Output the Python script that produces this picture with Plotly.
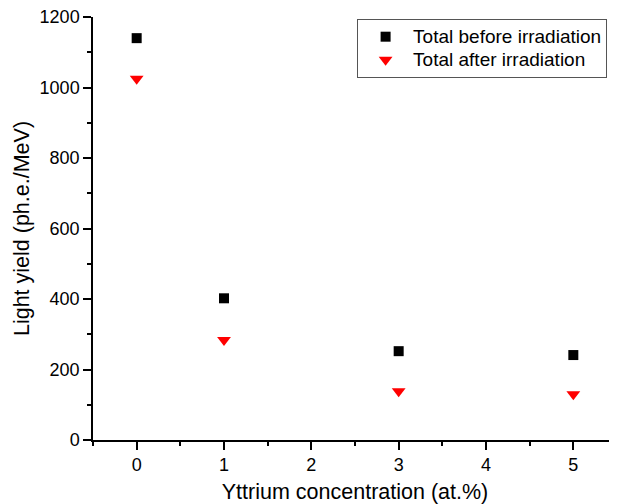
import plotly.graph_objects as go

x_conc = [0, 1, 3, 5]
before = [1140, 402, 252, 241]
after = [1025, 284, 138, 130]
series_names = ["Total before irradiation", "Total after irradiation"]

FONT = "Liberation Sans, Arial, sans-serif"

def leg(name):
    return '<span style="font-size:19px">' + name + '</span>'

fig = go.Figure()
fig.add_trace(go.Scatter(x=x_conc, y=before, mode="markers", name=leg(series_names[0]),
                         marker=dict(symbol="square", size=10, color="black")))
fig.add_trace(go.Scatter(x=x_conc, y=after, mode="markers", name=leg(series_names[1]),
                         marker=dict(symbol="triangle-down", size=12, color="red")))

tick_font = dict(family=FONT, size=18, color="black")
# page body has an 8px default margin, so the figure is sized to fit the window
fig.update_layout(
    width=609, height=496,
    margin=dict(l=85, r=0, t=9, b=64),
    plot_bgcolor="white", paper_bgcolor="white",
    font=dict(family=FONT, color="black"),
    showlegend=True,
    legend=dict(x=0.504, y=0.995, xanchor="left", yanchor="top",
                bordercolor="#555", borderwidth=1, bgcolor="white",
                font=dict(family=FONT, size=15.5, color="black"),
                tracegroupgap=0, itemwidth=45),
)
fig.update_xaxes(range=[-0.5, 5.5], dtick=1, tick0=0, showgrid=False, zeroline=False,
                 showline=True, linecolor="black", linewidth=1.5, automargin=False,
                 ticks="outside", ticklen=8, tickwidth=1.5, tickcolor="black",
                 ticklabeloverflow="allow",
                 minor=dict(dtick=0.5, tick0=0, ticks="outside", ticklen=4, tickwidth=1.5, tickcolor="black"),
                 title=dict(text="Yttrium concentration (at.%)", font=dict(family=FONT, size=21.5), standoff=15),
                 tickfont=tick_font)
fig.update_yaxes(range=[0, 1200], dtick=200, showgrid=False, zeroline=False,
                 showline=True, linecolor="black", linewidth=1.5, automargin=False,
                 ticks="outside", ticklen=8, tickwidth=1.5, tickcolor="black",
                 ticklabeloverflow="allow",
                 minor=dict(dtick=100, ticks="outside", ticklen=4, tickwidth=1.5, tickcolor="black"),
                 title=dict(text="Light yield (ph.e./MeV)", font=dict(family=FONT, size=21.5), standoff=4),
                 tickfont=tick_font)
fig.write_html("out.html")
